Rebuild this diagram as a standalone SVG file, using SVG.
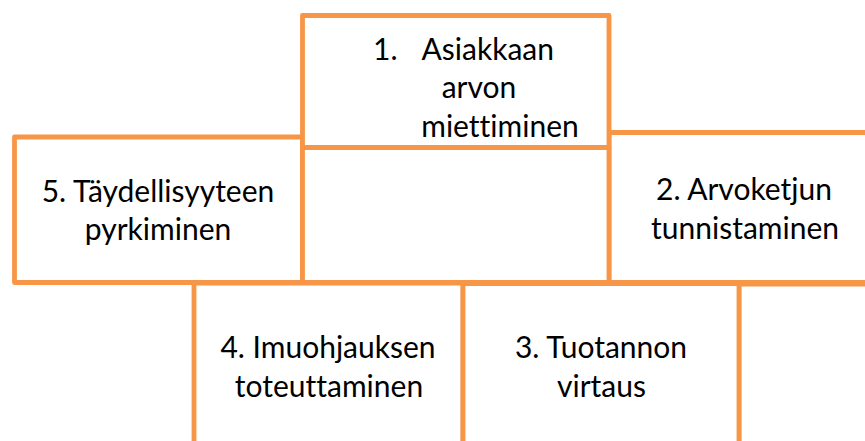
<svg xmlns="http://www.w3.org/2000/svg" width="865" height="441" viewBox="0 0 865 441">
<style>
.box{fill:#ffffff;stroke:#F79646;stroke-width:4.8;stroke-linejoin:round}
.t{font-family:Lato,"Liberation Sans",sans-serif;font-size:30px;fill:#000000;text-anchor:middle;font-variant-ligatures:none}
.l{text-anchor:start}
</style>
<rect width="865" height="441" fill="#ffffff"/>
<g id="node5">
<rect class="box" x="14.5" y="137" width="288" height="145.5"/>
<text class="t" x="158" y="202">5. Täydellisyyteen</text>
<text class="t" x="158" y="240">pyrkiminen</text>
</g>
<g id="node2">
<rect class="box" x="609" y="132.5" width="270" height="150"/>
<text class="t" x="744" y="200">2. Arvoketjun</text>
<text class="t" x="745" y="239">tunnistaminen</text>
</g>
<g id="nodeR">
<rect class="box" x="739" y="284" width="140" height="170"/>
</g>
<g id="node4">
<rect class="box" x="194" y="283" width="269" height="170"/>
<text class="t" x="328" y="357.5">4. Imuohjauksen</text>
<text class="t" x="329" y="397">toteuttaminen</text>
</g>
<g id="node3">
<rect class="box" x="463" y="283.5" width="276" height="170"/>
<text class="t" x="601" y="357.5">3. Tuotannon</text>
<text class="t" x="601.5" y="397">virtaus</text>
</g>
<g id="center">
<rect class="box" x="302.5" y="147.5" width="306.5" height="135"/>
</g>
<g id="node1">
<rect class="box" x="302.5" y="15.5" width="306.5" height="132"/>
<text class="t l" x="373" y="59.5">1.</text>
<text class="t l" x="421.5" y="59.5">Asiakkaan</text>
<text class="t" x="479" y="97.5">arvon</text>
<text class="t" x="500" y="137">miettiminen</text>
</g>
<g id="connectors"></g>
</svg>
